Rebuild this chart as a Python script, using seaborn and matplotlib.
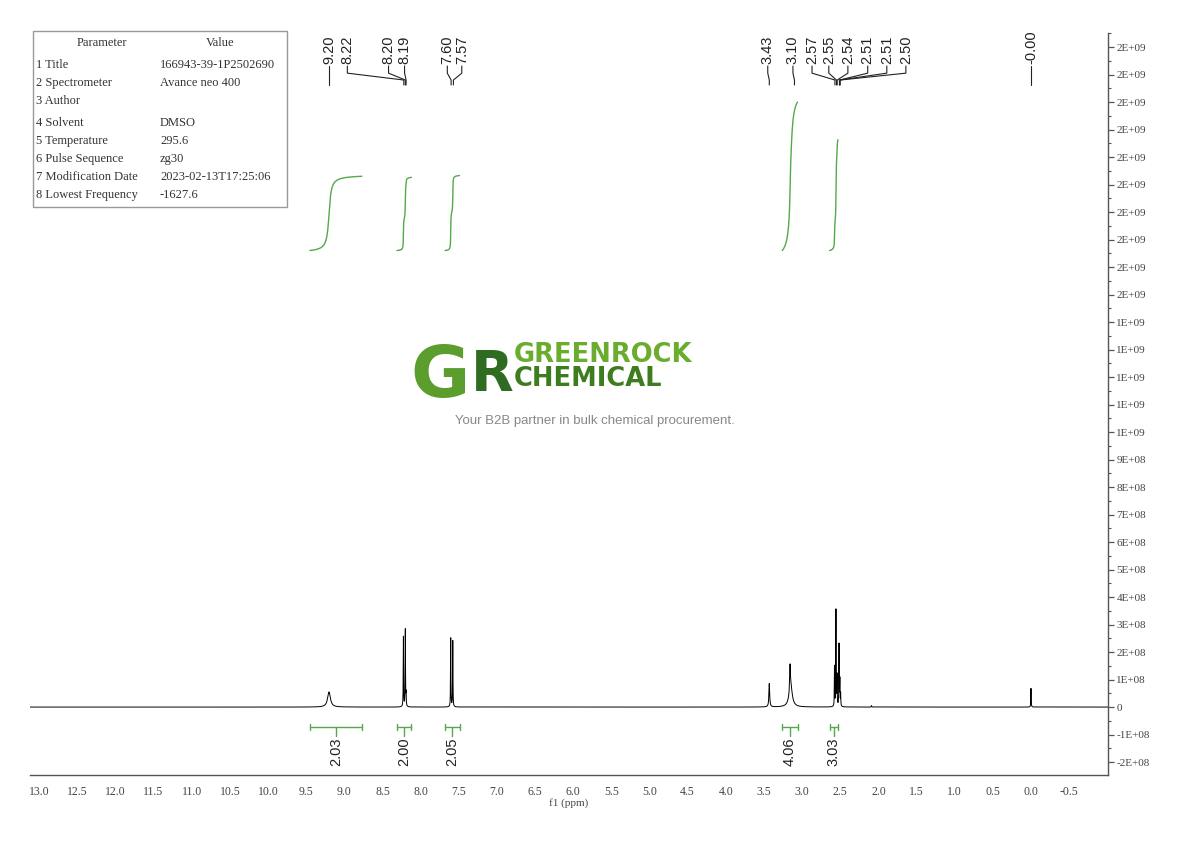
import numpy as np
import pandas as pd
import matplotlib
matplotlib.use('Agg')
import matplotlib.pyplot as plt
from matplotlib.patches import Rectangle
from matplotlib.ticker import MultipleLocator, FixedLocator, FuncFormatter
import seaborn as sns

# ===============================
# DATA
# ===============================
# peaks: position (ppm), height (x1e8), half width at half height (ppm)
peak_ppm = [9.20, 8.225, 8.200, 8.190, 7.605, 7.578, 3.43, 3.15, 3.158,
            2.575, 2.556, 2.542, 2.516, 2.505, 2.495, 2.09, 0.00]
peak_height = [0.55, 2.55, 2.80, 0.45, 2.50, 2.40, 0.85, 0.80, 0.85,
               1.45, 3.50, 1.10, 2.25, 0.95, 0.45, 0.05, 0.68]
peak_hwhm = [0.022, 0.0025, 0.0025, 0.0025, 0.0025, 0.0025, 0.006, 0.024, 0.005,
             0.0025, 0.0025, 0.0025, 0.0025, 0.0025, 0.0025, 0.003, 0.0025]

# peak picking labels
label_text = ['9.20', '8.22', '8.20', '8.19', '7.60', '7.57', '3.43', '3.10',
              '2.57', '2.55', '2.54', '2.51', '2.51', '2.50', '-0.00']
label_peak = [9.20, 8.22, 8.20, 8.19, 7.60, 7.57, 3.43, 3.10,
              2.57, 2.55, 2.54, 2.51, 2.51, 2.50, 0.00]
label_pos = [9.20, 8.96, 8.42, 8.21, 7.65, 7.46, 3.45, 3.12,
             2.87, 2.65, 2.40, 2.14, 1.89, 1.64, 0.00]

# integrals
int_from = [9.45, 8.31, 7.68, 3.26, 2.64]
int_to = [8.77, 8.12, 7.49, 3.06, 2.53]
int_value = [2.03, 2.00, 2.05, 4.06, 3.03]

# x tick labels shown on the ppm axis
x_ticks = [13.0, 12.5, 12.0, 11.5, 11.0, 10.5, 10.0, 9.5, 9.0, 8.5, 8.0, 7.5,
           7.0, 6.5, 6.0, 5.5, 5.0, 4.5, 4.0, 3.5, 3.0, 2.5, 2.0, 1.5, 1.0,
           0.5, 0.0, -0.5]

# parameter table
param_names = ['1 Title', '2 Spectrometer', '3 Author', '4 Solvent',
               '5 Temperature', '6 Pulse Sequence', '7 Modification Date',
               '8 Lowest Frequency']
param_values = ['166943-39-1P2502690', 'Avance neo 400', '', 'DMSO',
                '295.6', 'zg30', '2023-02-13T17:25:06', '-1627.6']

# ===============================
# BUILD SPECTRUM
# ===============================
ppm = np.arange(-1.05, 13.15, 0.0005)
intensity = np.zeros_like(ppm)
for p, h, w in zip(peak_ppm, peak_height, peak_hwhm):
    intensity += h * 1e8 * w**2 / ((ppm - p)**2 + w**2)
spec = pd.DataFrame({'ppm': ppm, 'intensity': intensity})

# ===============================
# FIGURE
# ===============================
sns.set_style('white')
plt.rcParams['font.family'] = ['Liberation Serif', 'DejaVu Serif']

W, H = 1190, 841
fig = plt.figure(figsize=(W / 100, H / 100), dpi=100)
ax = fig.add_axes([30 / W, 66 / H, 1078 / W, 742 / H])


def fx(px):
    return px / W


def fy(py):
    return 1 - py / H


sns.lineplot(data=spec, x='ppm', y='intensity', ax=ax, color='black',
             linewidth=0.7, estimator=None, sort=False)

ax.set_xlim(13.119, -1.009)
ax.set_ylim(-2.47e8, 2.451e9)

# axes styling
for s in ['top', 'left']:
    ax.spines[s].set_visible(False)
for s in ['bottom', 'right']:
    ax.spines[s].set_color('#555555')
    ax.spines[s].set_linewidth(1.0)

ax.xaxis.set_major_locator(FixedLocator(x_ticks))
ax.xaxis.set_minor_locator(FixedLocator([t - 0.25 for t in x_ticks]))
ax.xaxis.set_major_formatter(FuncFormatter(lambda v, p: f'{v:.1f}'))
ax.yaxis.tick_right()
ax.yaxis.set_label_position('right')
ax.yaxis.set_major_locator(MultipleLocator(1e8))
ax.yaxis.set_minor_locator(MultipleLocator(5e7))
ax.yaxis.set_major_formatter(
    FuncFormatter(lambda v, p: '0' if abs(v) < 1 else '%.0E' % v))

ax.tick_params(axis='x', which='major', direction='out', length=5, width=0.9,
               color='#555555', labelcolor='#444444', labelsize=8.5, pad=3)
ax.tick_params(axis='x', which='minor', direction='out', length=3, width=0.8,
               color='#555555')
ax.tick_params(axis='y', which='major', direction='out', length=4, width=0.9,
               color='#555555', labelcolor='#444444', labelsize=8, pad=2,
               left=False, right=True)
ax.tick_params(axis='y', which='minor', direction='out', length=2.5, width=0.8,
               color='#555555', left=False, right=True)
ax.set_xlabel('f1 (ppm)', fontsize=8, color='#444444', labelpad=0)
ax.set_ylabel('')

# ===============================
# PEAK LABELS
# ===============================
lbl_font = dict(family=['Liberation Sans', 'DejaVu Sans'], fontsize=10.5,
                color='#222222')
for txt, pk, pos in zip(label_text, label_peak, label_pos):
    ax.text(pos, 2.338e9, txt, rotation=90, rotation_mode='anchor',
            ha='left', va='center', **lbl_font)
    ax.plot([pos, pos, pk, pk], [2.331e9, 2.305e9, 2.28e9, 2.262e9],
            color='#222222', lw=0.8)

# ===============================
# INTEGRALS
# ===============================
green = '#55a84b'
base, unit = 1.66e9, 1.33e8
for a, b, val in zip(int_from, int_to, int_value):
    m = (ppm <= a) & (ppm >= b)
    seg_x = ppm[m][::-1]
    seg_y = intensity[m][::-1]
    cum = np.cumsum(seg_y)
    cum = cum / cum[-1]
    ax.plot(seg_x, base + cum * val * unit, color=green, lw=1.0)

    yb = -0.727e8
    c = (a + b) / 2
    ax.plot([a, b], [yb, yb], color=green, lw=1.0)
    ax.plot([a, a], [yb - 0.11e8, yb + 0.11e8], color=green, lw=1.0)
    ax.plot([b, b], [yb - 0.11e8, yb + 0.11e8], color=green, lw=1.0)
    ax.plot([c, c], [yb, -1.05e8], color=green, lw=1.0)
    ax.text(c, -1.10e8, f'{val:.2f}', rotation=90, rotation_mode='anchor',
            ha='right', va='center', **lbl_font)

# ===============================
# PARAMETER TABLE
# ===============================
fig.patches.append(Rectangle((fx(33), fy(207)), 254 / W, 176 / H,
                             transform=fig.transFigure, fill=False,
                             edgecolor='#999999', lw=1.0))
tab_font = dict(fontsize=9, color='#333333', va='center')
fig.text(fx(102), fy(43), 'Parameter', ha='center', **tab_font)
fig.text(fx(220), fy(43), 'Value', ha='center', **tab_font)
row_y = [65, 83, 101, 123, 141, 159, 177, 195]
for yy, nm, vl in zip(row_y, param_names, param_values):
    fig.text(fx(36), fy(yy), nm, ha='left', **tab_font)
    fig.text(fx(160), fy(yy), vl, ha='left', **tab_font)

# ===============================
# WATERMARK LOGO
# ===============================
sans_b = ['DejaVu Sans']
fig.text(fx(410), fy(397), 'G', fontsize=52, fontweight='bold',
         color='#5c9e2e', family=sans_b, ha='left', va='baseline')
fig.text(fx(471), fy(390), 'R', fontsize=40, fontweight='bold',
         color='#2f6b21', family=sans_b, ha='left', va='baseline')
fig.text(fx(514), fy(362), 'GREENROCK', fontsize=18.5, fontweight='bold',
         color='#6aac2e', family=sans_b, ha='left', va='baseline')
fig.text(fx(514), fy(386), 'CHEMICAL', fontsize=18.5, fontweight='bold',
         color='#3e7d1f', family=sans_b, ha='left', va='baseline')
fig.text(fx(595), fy(421), 'Your B2B partner in bulk chemical procurement.',
         fontsize=9.5, color='#888888', family=['Liberation Sans'],
         ha='center', va='center')

fig.savefig('out.png', dpi=100)
plt.close(fig)
